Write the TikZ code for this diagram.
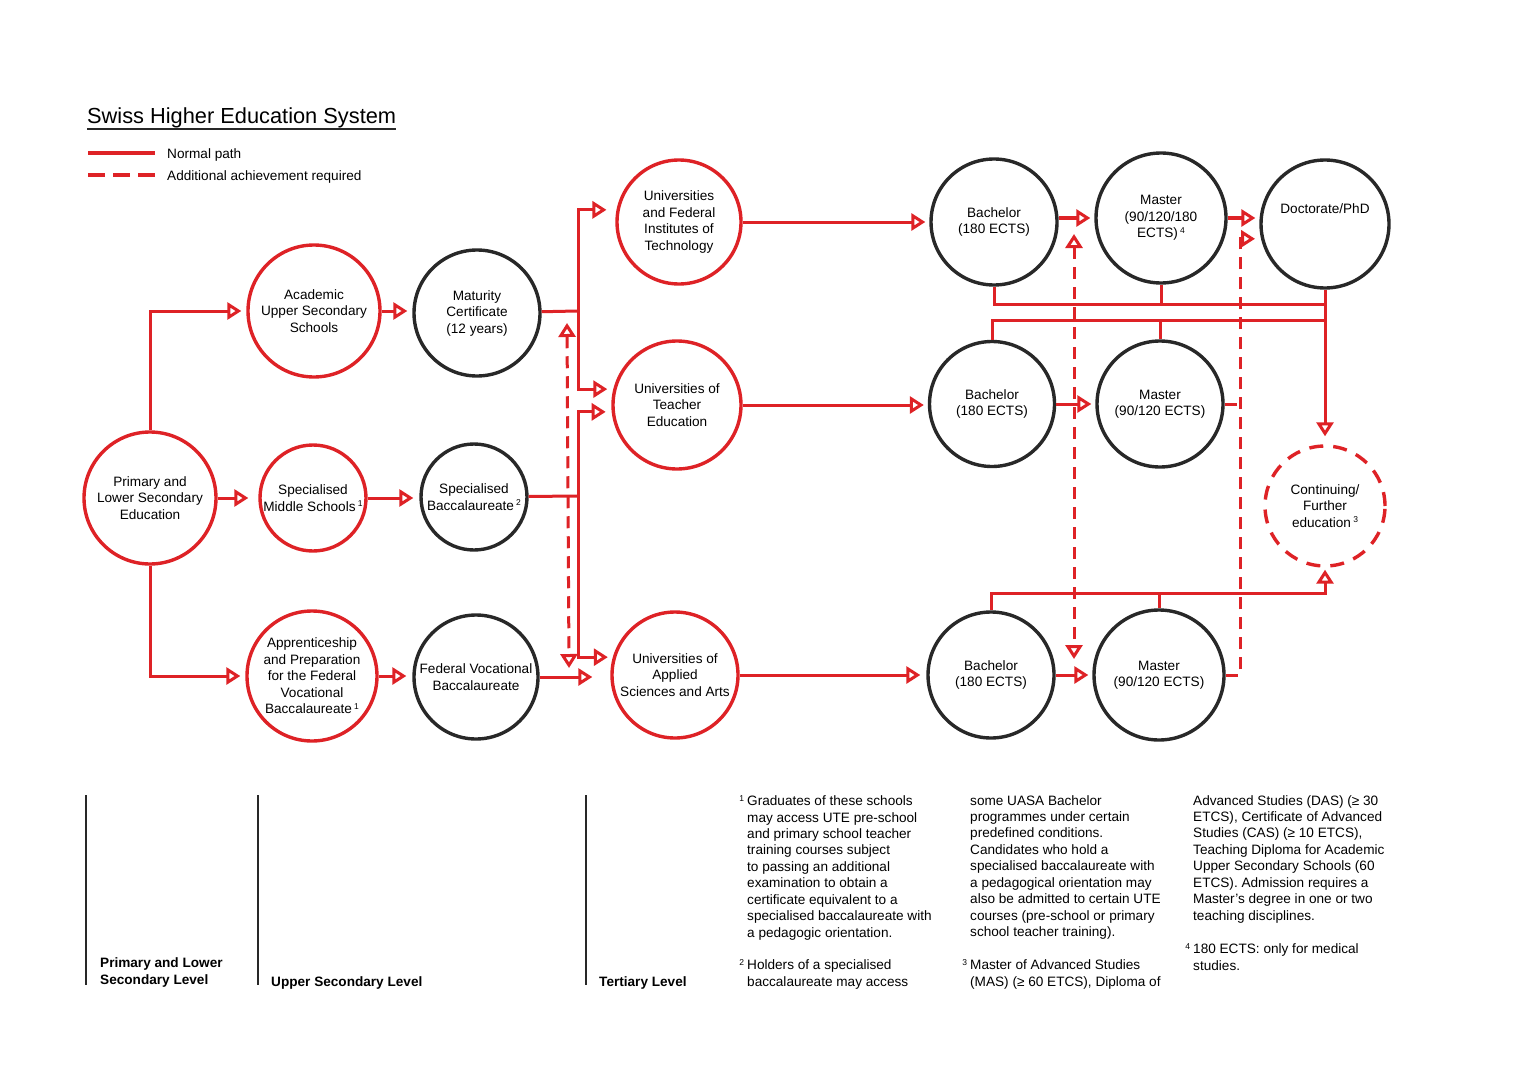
\documentclass[tikz,border=0pt]{standalone}
\usepackage{fontspec}
\setmainfont{Liberation Sans}
\usetikzlibrary{arrows.meta,calc}
\definecolor{sred}{RGB}{222,34,38}
\definecolor{sink}{RGB}{40,40,40}
\newcommand{\sups}[1]{\,\raisebox{4.5pt}{\fontsize{8.5}{9}\selectfont #1}}
\newcommand{\fsups}[1]{\raisebox{4.5pt}{\fontsize{8.5}{9}\selectfont #1}}
\begin{document}
\begin{tikzpicture}[x=1pt,y=-1pt,
  font=\fontsize{13.6}{16.5}\selectfont,
  rnode/.style={circle,draw=sred,line width=3.4pt,minimum size=#1,inner sep=-6pt,align=center},
  knode/.style={circle,draw=sink,line width=3.4pt,minimum size=#1,inner sep=-6pt,align=center},
  normalln/.style={draw=sred,line width=3pt},
  extraln/.style={draw=sred,line width=3pt,dash pattern=on 12pt off 8pt},
  arr/.style={-{Triangle[open,fill=white,length=14pt,width=17pt]}},
  darr/.style={{Triangle[open,fill=white,length=14pt,width=17pt]}-{Triangle[open,fill=white,length=14pt,width=17pt]}},
  txt/.style={inner sep=0pt},
  fn/.style={anchor=north west,inner sep=0pt,align=left,font=\fontsize{13.6}{16.45}\selectfont},
  lvl/.style={anchor=north west,inner sep=0pt,align=left,font=\bfseries\fontsize{13.6}{17}\selectfont},
]
\useasboundingbox (0,0) rectangle (1536,1086);
\fill[white] (0,0) rectangle (1536,1086);

% title and legend
\node[txt,anchor=base west,font=\fontsize{21.8}{26}\selectfont] (title) at (87,124) {Swiss Higher Education System};
\draw[sink,line width=1.3pt] (87,129) -- (396,129);
\draw[sred,line width=4pt] (88,153) -- (155,153);
\node[txt,anchor=west] (lg1) at (167,155) {Normal path};
\draw[sred,line width=4pt,dash pattern=on 17pt off 8pt] (88,175) -- (155,175);
\node[txt,anchor=west] (lg2) at (167,177) {Additional achievement required};

% nodes
\node[rnode=132] (P) at (150,498) {Primary and\\Lower Secondary\\Education};
\node[rnode=132] (AUS) at (314,311) {Academic\\Upper Secondary\\Schools};
\node[rnode=106] (SMS) at (313,498) {Specialised\\Middle Schools\sups{1}};
\node[rnode=130] (APP) at (312,676) {Apprenticeship\\and Preparation\\for the Federal\\Vocational\\Baccalaureate\sups{1}};
\node[knode=126] (MC) at (477,313) {Maturity\\Certificate\\(12 years)};
\node[knode=106] (SB) at (474,497) {Specialised\\Baccalaureate\sups{2}};
\node[knode=124] (FVB) at (476,677) {Federal Vocational\\Baccalaureate};
\node[rnode=124] (UFIT) at (679,222) {Universities\\and Federal\\Institutes of\\Technology};
\node[rnode=128] (UTE) at (677,405) {Universities of\\Teacher\\Education};
\node[rnode=126] (UASA) at (675,675) {Universities of\\Applied\\Sciences and Arts};
\node[knode=126] (B1) at (994,222) {Bachelor\\(180 ECTS)};
\node[knode=130] (M1) at (1161,218) {Master\\(90/120/180\\ECTS)\sups{4}};
\node[knode=128] (Doc) at (1325,224) {};
\node[txt] (DocT) at (1325,209) {Doctorate/PhD};
\node[knode=125] (B2) at (992,404) {Bachelor\\(180 ECTS)};
\node[knode=126] (M2) at (1160,404) {Master\\(90/120 ECTS)};
\node[circle,draw=sred,line width=3.4pt,dash pattern=on 14pt off 10pt,minimum size=120,inner sep=-6pt,align=center] (Cont) at (1325,506) {Continuing/\\Further\\education\sups{3}};
\node[knode=126] (B3) at (991,675) {Bachelor\\(180 ECTS)};
\node[knode=130] (M3) at (1159,675) {Master\\(90/120 ECTS)};

% left connectors
\draw[normalln,arr,shorten >=5pt] (P.north) |- (AUS.west);
\draw[normalln,arr,shorten >=10pt] (P.east) -- (SMS.west);
\draw[normalln,arr,shorten >=5pt] (P.south) |- (APP.west);
\draw[normalln,arr,shorten >=5pt] (AUS.east) -- (AUS.east -| MC.west);
\draw[normalln,arr,shorten >=6pt] (SMS.east) -- (SMS.east -| SB.west);
\draw[normalln,arr,shorten >=6pt] (APP.east) -- (APP.east -| FVB.west);

% junctions to tertiary
\coordinate (j1) at (578,311);
\coordinate (j2) at (578,496);
\draw[normalln] (MC) -- (j1);
\draw[normalln,arr,shorten >=10pt] (j1) |- (UFIT.169);
\draw[normalln,arr,shorten >=6pt] (j1) |- (UTE.166);
\draw[normalln] (SB) -- (j2);
\draw[normalln,arr,shorten >=6pt] (j2) |- (UTE.186);
\draw[normalln,arr,shorten >=5pt] (j2) |- (UASA.164);
\draw[normalln,arr,shorten >=18pt] (FVB.east) -- (FVB.east -| UASA.west);
\coordinate (d1a) at (567,323);
\coordinate (d1b) at (569,668);
\draw[extraln,darr] (d1a) -- (d1b);

% to bachelor
\draw[normalln,arr,shorten >=4pt] (UFIT.east) -- (UFIT.east -| B1.west);
\draw[normalln,arr,shorten >=4pt] (UTE.east) -- (UTE.east -| B2.west);
\draw[normalln,arr,shorten >=6pt] (UASA.east) -- (UASA.east -| B3.west);

% bachelor -> master -> doctorate
\draw[normalln,arr,shorten >=4pt] (B1.east |- M1.west) -- (M1.west);
\draw[normalln,arr,shorten >=4pt] (M1.east) -- (M1.east -| Doc.west);
\draw[normalln,arr,shorten >=4pt] (B2.east) -- (M2.west);
\draw[normalln,arr,shorten >=4pt] (B3.east) -- (M3.west);

% buses to continuing education
\coordinate (bt) at (1325,304);
\coordinate (bm) at (1325,320);
\coordinate (bb) at (1325,593);
\draw[normalln] (B1.south) |- (bt);
\draw[normalln] (M1.south) -- (M1.south |- bt);
\draw[normalln,arr,shorten >=8pt] (Doc.south) -- (Cont.north);
\draw[normalln] (B2.north) |- (bm);
\draw[normalln] (M2.north) -- (M2.north |- bm);
\draw[normalln,arr,shorten >=2pt] (B3.north) |- (bb) -- (Cont.south);
\draw[normalln] (M3.north) -- (M3.north |- bb);

% additional achievement paths on the right
\coordinate (d2a) at (1074,234);
\coordinate (d2b) at (1074,659);
\draw[extraln,darr] (d2a) -- (d2b);
\coordinate (dc) at (1240,672);
\draw[extraln,arr,shorten >=6pt] (M3.east) -- (M3.east -| dc) |- (Doc.193);
\draw[extraln] (M2.east) -- (M2.east -| dc);

% level separators
\draw[sink,line width=2pt] (86,795) -- (86,985);
\draw[sink,line width=2pt] (258,795) -- (258,985);
\draw[sink,line width=2pt] (586,795) -- (586,985);
\node[lvl] (lv1) at (100,957) {Primary and Lower\\Secondary Level};
\node[lvl] (lv2) at (271,976) {Upper Secondary Level};
\node[lvl] (lv3) at (599,976) {Tertiary Level};

% footnotes
\node[fn] (fn1) at (747,795) {\llap{\fsups{1}\hspace{3pt}}Graduates of these schools\\may access UTE pre-school\\and primary school teacher\\training courses subject\\to passing an additional\\examination to obtain a\\certificate equivalent to a\\specialised baccalaureate with\\a pedagogic orientation.};
\node[fn] (fn2) at (747,959) {\llap{\fsups{2}\hspace{3pt}}Holders of a specialised\\baccalaureate may access};
\node[fn] (fn2b) at (970,795) {some UASA Bachelor\\programmes under certain\\predefined conditions.\\Candidates who hold a\\specialised baccalaureate with\\a pedagogical orientation may\\also be admitted to certain UTE\\courses (pre-school or primary\\school teacher training).};
\node[fn] (fn3) at (970,959) {\llap{\fsups{3}\hspace{3pt}}Master of Advanced Studies\\(MAS) (≥ 60 ETCS), Diploma of};
\node[fn] (fn3b) at (1193,795) {Advanced Studies (DAS) (≥ 30\\ETCS), Certificate of Advanced\\Studies (CAS) (≥ 10 ETCS),\\Teaching Diploma for Academic\\Upper Secondary Schools (60\\ETCS). Admission requires a\\Master’s degree in one or two\\teaching disciplines.};
\node[fn] (fn4) at (1193,943) {\llap{\fsups{4}\hspace{3pt}}180 ECTS: only for medical\\studies.};
\end{tikzpicture}
\end{document}
